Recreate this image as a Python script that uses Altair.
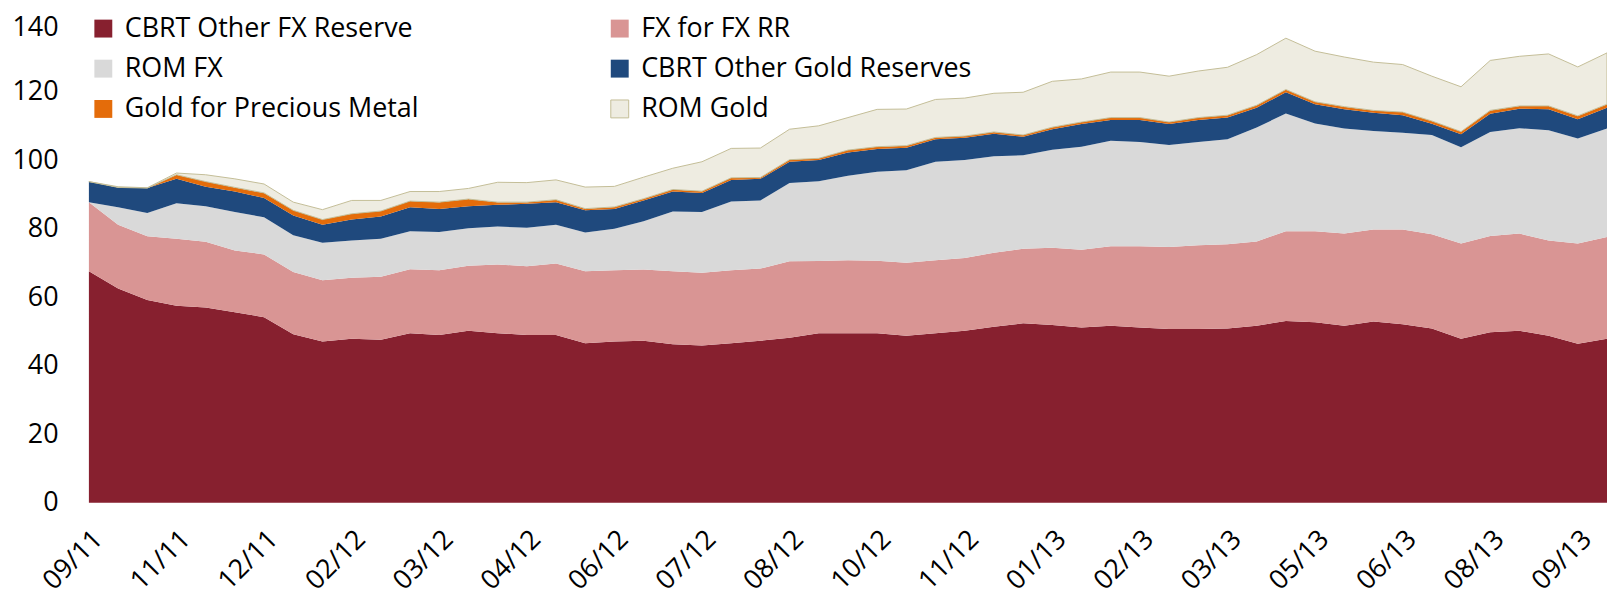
import altair as alt
import pandas as pd

# Tick labels (every third biweekly observation)
tick_labels = ["09/11", "11/11", "12/11", "02/12", "03/12", "04/12", "06/12", "07/12",
               "08/12", "10/12", "11/12", "01/13", "02/13", "03/13", "05/13", "06/13",
               "08/13", "09/13"]

series_names = ["CBRT Other FX Reserve", "FX for FX RR", "ROM FX",
                "CBRT Other Gold Reserves", "Gold for Precious Metal", "ROM Gold"]
colors = ["#87202F", "#D99594", "#D9D9D9", "#1F497D", "#E46C0A", "#EEECE1"]
strokes = ["transparent", "transparent", "transparent", "transparent", "transparent", "#C4BD97"]

cbrt_fx = [67.6, 62.6, 59.2, 57.5, 57.0, 55.6, 54.2, 49.2, 47.1, 47.9, 47.6, 49.5, 49.0, 50.2,
           49.5, 49.0, 49.0, 46.6, 47.1, 47.3, 46.3, 45.9, 46.6, 47.3, 48.2, 49.5, 49.5, 49.5,
           48.8, 49.5, 50.2, 51.4, 52.4, 51.9, 51.2, 51.7, 51.2, 50.7, 50.7, 50.9, 51.7, 53.1,
           52.7, 51.7, 52.9, 52.1, 50.9, 47.9, 49.8, 50.2, 48.8, 46.4, 47.9]
fx_rr = [20.2, 18.6, 18.6, 19.6, 19.2, 18.1, 18.3, 18.2, 17.9, 17.8, 18.4, 18.7, 18.9, 19.0,
         20.1, 20.1, 20.9, 21.0, 20.8, 20.8, 21.3, 21.3, 21.3, 21.1, 22.3, 21.1, 21.3, 21.2,
         21.3, 21.3, 21.3, 21.6, 21.8, 22.6, 22.7, 23.2, 23.7, 24.0, 24.5, 24.6, 24.6, 26.2,
         26.6, 26.9, 26.9, 27.7, 27.5, 27.8, 28.1, 28.4, 27.8, 29.3, 29.7]
rom_fx = [0.0, 5.1, 6.8, 10.4, 10.4, 11.2, 10.9, 10.7, 10.9, 10.9, 11.1, 11.1, 11.2, 11.0,
          11.1, 11.2, 11.3, 11.3, 12.1, 14.1, 17.5, 17.7, 20.1, 19.9, 22.9, 23.3, 24.7, 26.0,
          27.0, 28.8, 28.6, 28.2, 27.3, 28.6, 30.1, 30.8, 30.5, 29.8, 30.2, 30.7, 33.3, 34.4,
          31.5, 30.7, 28.8, 28.3, 29.0, 28.1, 30.4, 30.8, 32.2, 30.7, 31.7]
cbrt_gold = [6.0, 5.8, 7.3, 7.1, 5.7, 6.0, 5.6, 5.8, 5.3, 6.1, 6.5, 7.0, 6.7, 6.4,
             6.3, 7.0, 6.6, 6.5, 5.8, 6.1, 5.8, 5.6, 6.3, 6.3, 6.2, 6.2, 6.8, 6.6,
             6.6, 6.6, 6.5, 6.6, 5.4, 6.0, 6.6, 6.1, 6.4, 6.1, 6.4, 6.3, 5.8, 6.2,
             5.6, 5.6, 5.3, 5.1, 3.3, 3.8, 5.3, 5.7, 6.1, 5.6, 6.1]
precious = [0.0, 0.0, 0.0, 1.2, 1.5, 1.2, 1.5, 1.5, 1.5, 1.7, 1.6, 1.8, 2.0, 2.1,
            0.8, 0.5, 0.7, 0.5, 0.6, 0.5, 0.6, 0.5, 0.6, 0.4, 0.6, 0.5, 0.7, 0.7,
            0.6, 0.5, 0.5, 0.5, 0.5, 0.6, 0.6, 0.7, 0.7, 0.6, 0.7, 0.7, 0.7, 0.8,
            0.7, 0.8, 0.7, 0.9, 0.8, 0.8, 1.0, 0.8, 1.0, 1.0, 1.0]
rom_gold = [0.0, 0.2, 0.1, 0.5, 2.0, 2.5, 2.6, 2.4, 2.9, 3.9, 3.1, 2.8, 3.1, 3.1,
            5.8, 5.7, 5.8, 6.3, 6.0, 6.3, 6.2, 8.6, 8.6, 8.6, 8.9, 9.5, 9.5, 10.9,
            10.7, 11.1, 11.1, 11.3, 12.5, 13.4, 12.6, 13.3, 13.3, 13.4, 13.6, 14.0, 14.8, 15.0,
            14.8, 14.5, 14.1, 13.9, 13.1, 13.1, 14.6, 14.5, 15.2, 14.3, 15.0]

all_series = [cbrt_fx, fx_rr, rom_fx, cbrt_gold, precious, rom_gold]
rows = []
for k, (name, vals) in enumerate(zip(series_names, all_series)):
    for i, v in enumerate(vals):
        rows.append({"idx": i, "series": name, "value": v, "ord": k})
df = pd.DataFrame(rows)

label_expr = "[" + ",".join("'%s'" % t for t in tick_labels) + "][round(datum.value / 3)]"
FONT = "Open Sans"

chart = alt.Chart(df).mark_area(strokeWidth=1).encode(
    x=alt.X("idx:Q",
            scale=alt.Scale(domain=[0, 52], nice=False, zero=False),
            axis=alt.Axis(values=list(range(0, 52, 3)), labelExpr=label_expr, labelAngle=-45,
                          title=None, domain=False, ticks=False, grid=False,
                          labelFontSize=27, labelFont=FONT, labelColor="#000000",
                          labelPadding=23, labelFlush=False, labelOverlap=False)),
    y=alt.Y("value:Q", stack="zero",
            scale=alt.Scale(domain=[0, 140], nice=False),
            axis=alt.Axis(values=[0, 20, 40, 60, 80, 100, 120, 140], title=None,
                          domain=False, ticks=False, grid=False,
                          labelFontSize=27, labelFont=FONT, labelColor="#000000",
                          labelPadding=31,
                          labelOffset={"condition": {"test": "datum.value == 140", "value": 4},
                                       "value": 0})),
    color=alt.Color("series:N",
                    scale=alt.Scale(domain=series_names, range=colors),
                    legend=alt.Legend(title=None, orient="none", legendX=1.0, legendY=-8.6,
                                      columns=2, direction="horizontal",
                                      symbolType="square", symbolSize=324,
                                      symbolStrokeWidth=1,
                                      labelFontSize=27, labelFont=FONT, labelColor="#000000",
                                      labelLimit=500, labelOffset=8,
                                      rowPadding=12.5, columnPadding=188, padding=0)),
    stroke=alt.Stroke("series:N",
                      scale=alt.Scale(domain=series_names, range=strokes)),
    order=alt.Order("ord:Q"),
).properties(
    width=1525.7,
    height=481.6,
    autosize=alt.AutoSizeParams(type="none"),
    padding={"left": 81.3, "top": 14, "right": 0, "bottom": 120},
).configure(font=FONT).configure_view(stroke="transparent", strokeWidth=0).configure_axis(
    grid=False, domain=False, ticks=False
)

chart.save("out.html", embed_options={"renderer": "svg", "actions": False})
